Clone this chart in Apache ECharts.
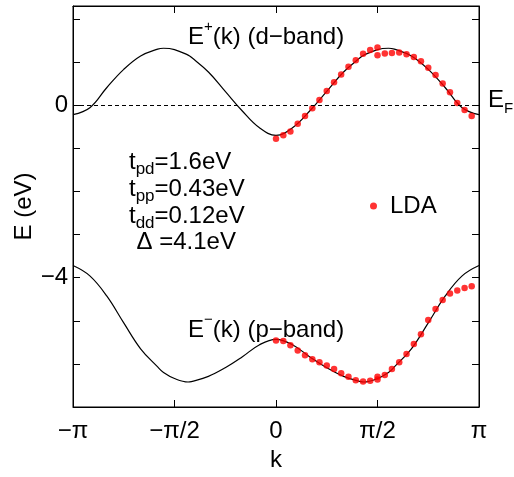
<!DOCTYPE html>
<html><head><meta charset="utf-8">
<script src="https://cdn.jsdelivr.net/npm/echarts@6/dist/echarts.min.js"></script>
<style>html,body{margin:0;padding:0;background:#fff}#c{width:514px;height:477px}</style>
</head><body><div id="c"></div>
<script>
// k in units of pi
const kLine = [-1, -0.917, -0.833, -0.75, -0.667, -0.583, -0.554, -0.5, -0.433, -0.417, -0.333, -0.25, -0.167, -0.083, 0,
               0.083, 0.167, 0.25, 0.333, 0.417, 0.433, 0.5, 0.554, 0.583, 0.667, 0.75, 0.833, 0.917, 1];
const eUpper = [-0.22, -0.06, 0.41, 0.83, 1.14, 1.30, 1.32, 1.29, 1.16, 1.11, 0.77, 0.32, -0.13, -0.52, -0.70,
                -0.52, -0.13, 0.32, 0.77, 1.11, 1.16, 1.29, 1.32, 1.30, 1.14, 0.83, 0.41, -0.06, -0.22];
const eLower = [-3.72, -3.96, -4.43, -5.05, -5.65, -6.07, -6.20, -6.34, -6.42, -6.41, -6.29, -6.09, -5.84, -5.56, -5.43,
                -5.56, -5.84, -6.09, -6.29, -6.41, -6.42, -6.34, -6.20, -6.07, -5.65, -5.05, -4.43, -3.96, -3.72];
const kDots = [0, 0.036, 0.071, 0.107, 0.143, 0.179, 0.214, 0.25, 0.286, 0.321, 0.357, 0.393, 0.429, 0.464,
               0.5, 0.5, 0.536, 0.571, 0.607, 0.643, 0.679, 0.714, 0.75, 0.786, 0.821, 0.857, 0.893, 0.929, 0.964];
const ldaUpper = [-0.78, -0.70, -0.61, -0.43, -0.25, -0.07, 0.12, 0.33, 0.53, 0.71, 0.89, 1.04, 1.19, 1.28,
                  1.34, 1.16, 1.20, 1.21, 1.22, 1.18, 1.12, 1.02, 0.87, 0.70, 0.50, 0.30, 0.05, -0.11, -0.25];
const ldaLower = [-5.46, -5.47, -5.57, -5.69, -5.80, -5.89, -5.96, -6.04, -6.12, -6.22, -6.30, -6.38, -6.41, -6.39,
                  -6.30, -6.36, -6.26, -6.12, -5.96, -5.77, -5.54, -5.31, -4.98, -4.73, -4.52, -4.37, -4.30, -4.24, -4.20];
const xTickLabels = {'-1': '\u2212\u03c0', '-0.5': '\u2212\u03c0/2', '0': '0', '0.5': '\u03c0/2', '1': '\u03c0'};
const yTickLabels = {'0': '0', '-4': '\u22124'};

const FONT = '"Liberation Sans", Arial, Helvetica, sans-serif';
const zip = (a, b) => a.map((v, i) => [v, b[i]]);
const chart = echarts.init(document.getElementById('c'));

const mctx = document.createElement('canvas').getContext('2d');
function tw(t, s) { mctx.font = s + 'px ' + FONT; return mctx.measureText(t).width; }
// parts: [text, fontSize, dy]
function pieces(x0, yc, parts) {
  let x = x0; const out = [];
  for (const [t, s, dy] of parts) {
    out.push({type: 'text', x: x, y: yc + dy, silent: true,
      style: {text: t, font: s + 'px ' + FONT, fill: '#000', align: 'left', verticalAlign: 'middle',
              textAlign: 'left', textVerticalAlign: 'middle'}});
    x += tw(t, s);
  }
  return out;
}

const axisCommonX = {
  type: 'value', min: -1, max: 1, interval: 0.5,
  axisLine: {show: true, onZero: false, lineStyle: {color: '#000', width: 1}},
  axisTick: {show: true, inside: true, length: 7, lineStyle: {color: '#000', width: 1}},
  splitLine: {show: false}
};
const axisCommonY = {
  type: 'value', min: -7, max: 2.3, interval: 1,
  axisLine: {show: true, onZero: false, lineStyle: {color: '#000', width: 1}},
  axisTick: {show: true, inside: true, length: 7, lineStyle: {color: '#000', width: 1}},
  splitLine: {show: false}
};

const SUB = 7, SUP = -10;
const graphics = [].concat(
  pieces(188, 37, [['E', 24, 0], ['+', 15, SUP], ['(k) (d\u2212band)', 24, 0]]),
  pieces(188, 330, [['E', 24, 0], ['\u2212', 15, SUP], ['(k) (p\u2212band)', 24, 0]]),
  pieces(488, 100, [['E', 24, 0], ['F', 15, 8.5]]),
  pieces(129, 162, [['t', 24, 0], ['pd', 17, SUB], ['=1.6eV', 24, 0]]),
  pieces(129, 189, [['t', 24, 0], ['pp', 17, SUB], ['=0.43eV', 24, 0]]),
  pieces(129, 216, [['t', 24, 0], ['dd', 17, SUB], ['=0.12eV', 24, 0]]),
  pieces(136.5, 242.5, [['\u0394 =4.1eV', 24, 0]])
);

chart.setOption({
  animation: false,
  backgroundColor: '#fff',
  textStyle: {fontFamily: FONT, color: '#000'},
  grid: {left: 73, right: 35, top: 6, bottom: 65, show: true, borderColor: '#000', borderWidth: 1, backgroundColor: 'transparent'},
  xAxis: [
    Object.assign({}, axisCommonX, {
      position: 'bottom',
      axisLabel: {show: true, fontSize: 24, fontFamily: FONT, color: '#000', margin: 12,
        formatter: v => xTickLabels[String(v)] || ''},
      name: 'k', nameLocation: 'middle', nameGap: 41, nameMoveOverlap: false,
      nameTextStyle: {fontSize: 24, fontFamily: FONT, color: '#000'}
    }),
    Object.assign({}, axisCommonX, {position: 'top', axisLabel: {show: false}})
  ],
  yAxis: [
    Object.assign({}, axisCommonY, {
      position: 'left',
      axisLabel: {show: true, fontSize: 24, fontFamily: FONT, color: '#000', margin: 5,
        formatter: v => yTickLabels[String(v)] || ''},
      name: 'E (eV)', nameLocation: 'middle', nameGap: 37, nameMoveOverlap: false,
      nameTextStyle: {fontSize: 24, fontFamily: FONT, color: '#000'}
    }),
    Object.assign({}, axisCommonY, {position: 'right', axisLabel: {show: false}})
  ],
  legend: {
    data: ['LDA'], left: 365, top: 189, icon: 'circle', itemWidth: 23, itemHeight: 7,
    textStyle: {fontSize: 24, fontFamily: FONT, color: '#000'}
  },
  series: [
    {
      type: 'line', name: 'upper', data: zip(kLine, eUpper), smooth: 0.4, showSymbol: false, symbol: 'none',
      lineStyle: {color: '#000', width: 1.2}, z: 2,
      markLine: {silent: true, symbol: 'none', label: {show: false},
        lineStyle: {type: [4, 3], color: '#000', width: 1}, data: [{yAxis: 0}]}
    },
    {
      type: 'line', name: 'lower', data: zip(kLine, eLower), smooth: 0.4, showSymbol: false, symbol: 'none',
      lineStyle: {color: '#000', width: 1.2}, z: 2
    },
    {type: 'scatter', name: 'LDA', data: zip(kDots, ldaUpper), symbol: 'circle', symbolSize: 6.5,
     itemStyle: {color: '#ff0000'}, z: 3},
    {type: 'scatter', name: 'LDA', data: zip(kDots, ldaLower), symbol: 'circle', symbolSize: 6.5,
     itemStyle: {color: '#ff0000'}, z: 3}
  ],
  graphic: graphics
});
</script>
</body></html>
